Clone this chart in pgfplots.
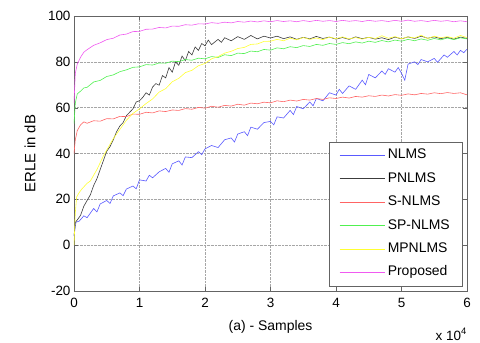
\documentclass[border=0pt]{standalone}
\usepackage{pgfplots}
\pgfplotsset{compat=1.18}
\usepackage{fontspec}
\setmainfont{Liberation Sans}
\definecolor{cB}{RGB}{90,90,255}
\definecolor{cK}{RGB}{60,60,60}
\definecolor{cR}{RGB}{255,100,100}
\definecolor{cG}{RGB}{80,240,80}
\definecolor{cY}{RGB}{255,255,50}
\definecolor{cM}{RGB}{240,90,240}
\definecolor{axgray}{RGB}{100,100,100}
\begin{document}
\begin{tikzpicture}
\begin{axis}[
  scale only axis, width=393bp, height=275bp,
  xmin=0, xmax=6, ymin=-20, ymax=100,
  xtick={0,1,2,3,4,5,6}, ytick={-20,0,20,40,60,80,100},
  tick align=inside, xtick pos=both, ytick pos=both,
  major tick length=4bp,
  grid=major, major grid style={densely dotted, gray!70},
  axis line style={axgray}, tick style={axgray},
  /pgf/number format/assume math mode=true,
  ticklabel style={font=\fontsize{13.5}{15}\selectfont},
  xticklabel style={yshift=-4bp},
  xlabel={(a) - Samples}, ylabel={ERLE in dB},
  xlabel style={font=\fontsize{14}{16}\selectfont, at={(axis description cs:0.5,-0.131)}, anchor=center},
  ylabel style={font=\fontsize{15}{17}\selectfont, at={(axis description cs:-0.112,0.5)}, anchor=center},
  legend style={at={(axis description cs:1,0)}, xshift=-5bp, yshift=5bp, anchor=south east,
    draw=axgray, font=\fontsize{14}{16}\selectfont, inner xsep=10bp, inner ysep=5bp,
    nodes={inner sep=2bp, text height=10bp, text depth=3bp}, row sep=6.4bp, column sep=1bp},
  legend cell align=left,
  legend image code/.code={\draw[#1] (0bp,0bp) -- (45bp,0bp);},
  every axis plot/.append style={line width=0.6bp},
]
\addplot[cB] coordinates {
(0,4) (0.03,10) (0.08,10.5) (0.15,12.8) (0.2,12) (0.3,16) (0.35,14.5) (0.4,18) (0.5,19.5) (0.55,18.2)
(0.6,21.5) (0.7,22.8) (0.75,21.6) (0.8,24.5) (0.9,25.8) (0.95,24.6) (1.0,28.5) (1.1,28) (1.15,30.5) (1.2,29.4)
(1.3,32) (1.4,33.5) (1.45,31.8) (1.5,35.5) (1.6,36.8) (1.65,35) (1.7,38.5) (1.8,38.2) (1.9,40.8) (1.95,39.5)
(2.0,42) (2.1,43.5) (2.2,42.6) (2.3,46) (2.4,46.8) (2.45,45) (2.5,48.5) (2.6,49.5) (2.65,47.8) (2.7,51.5)
(2.8,50.6) (2.9,53.5) (3.0,54) (3.05,52.5) (3.1,56) (3.2,55.5) (3.3,58.8) (3.35,57) (3.4,60.5) (3.5,59.5)
(3.6,62.5) (3.65,60.8) (3.7,64) (3.8,63) (3.9,66.5) (4.0,65.5) (4.05,68) (4.1,66.2) (4.2,69.5) (4.3,68)
(4.4,72) (4.45,70) (4.5,74.5) (4.6,73) (4.7,76) (4.75,74.5) (4.8,77) (4.9,75.5) (4.95,77.5) (5.0,75)
(5.05,72) (5.1,79) (5.2,80) (5.25,78.8) (5.3,81) (5.4,80) (5.5,81.5) (5.55,79.8) (5.65,83) (5.7,82)
(5.8,84.5) (5.85,83) (5.9,85) (5.95,84) (6.0,85.5)
};
\addlegendentry{NLMS}
\addplot[cK] coordinates {
(0,4) (0.02,10) (0.05,11) (0.1,13) (0.15,17) (0.2,19.5) (0.25,22) (0.3,26) (0.35,29) (0.4,33)
(0.45,37) (0.5,41) (0.55,43) (0.6,46) (0.65,49.5) (0.7,52) (0.75,53.5) (0.8,56.5) (0.85,58) (0.9,59.5)
(0.95,62.5) (1.0,63) (1.05,64.5) (1.1,66.5) (1.15,65.5) (1.2,69) (1.25,70.5) (1.3,69.8) (1.35,74) (1.4,73)
(1.45,77.5) (1.5,75.5) (1.55,80) (1.6,78.5) (1.65,82.5) (1.7,80.5) (1.75,84.5) (1.8,83) (1.85,86.5) (1.9,85)
(1.95,88) (2.0,87) (2.05,89.5) (2.1,87.5) (2.2,89.8) (2.25,88.5) (2.3,90.5) (2.4,89.2) (2.5,91) (2.6,89.8)
(2.7,91.5) (2.8,90) (2.9,91.2) (3.0,90.4) (3.1,91.2) (3.2,90.1) (3.3,90.9) (3.4,89.8) (3.5,90.7) (3.6,90.0)
(3.7,91.1) (3.8,90.2) (3.9,90.8) (4.0,89.9) (4.1,90.6) (4.2,89.8) (4.3,90.9) (4.4,90.1) (4.5,90.7) (4.6,89.9)
(4.7,90.5) (4.8,89.7) (4.9,90.8) (5.0,90.0) (5.1,90.9) (5.2,90.2) (5.3,91.2) (5.4,90.3) (5.5,90.9) (5.6,90.1)
(5.7,90.7) (5.8,89.9) (5.9,90.8) (6.0,90.2)
};
\addlegendentry{PNLMS}
\addplot[cR] coordinates {
(0,40) (0.02,46) (0.05,50) (0.1,52.5) (0.15,53.8) (0.2,53.2) (0.3,54.3) (0.4,54.1) (0.5,55.2) (0.6,55.1)
(0.7,56.2) (0.8,56.1) (0.9,57.2) (1.0,57.1) (1.1,58) (1.2,57.7) (1.3,58.6) (1.4,58.3) (1.5,59) (1.6,58.8)
(1.7,59.6) (1.8,59.3) (1.9,60.1) (2.0,59.8) (2.1,60.6) (2.2,60.2) (2.3,61) (2.4,60.7) (2.5,61.5) (2.6,61.1)
(2.7,62) (2.8,61.7) (2.9,62.4) (3.0,62.1) (3.1,63) (3.2,62.6) (3.3,63.3) (3.4,62.9) (3.5,63.6) (3.6,63.3)
(3.7,64) (3.8,63.6) (3.9,64.3) (4.0,64) (4.1,64.6) (4.2,64.2) (4.3,64.9) (4.4,64.6) (4.5,65.2) (4.6,64.9)
(4.7,65.5) (4.8,65.1) (4.9,65.7) (5.0,65.4) (5.1,66) (5.2,65.6) (5.3,66.2) (5.4,65.9) (5.5,66.5) (5.6,66.1)
(5.7,66.6) (5.8,66.2) (5.9,66.5) (6.0,65.6)
};
\addlegendentry{S-NLMS}
\addplot[cG] coordinates {
(0,53) (0.02,62) (0.05,66) (0.1,67.2) (0.15,68.6) (0.2,68.9) (0.3,71.2) (0.4,71.9) (0.5,73.6) (0.6,74.3)
(0.7,75.7) (0.8,76.5) (0.9,77.6) (1.0,77.8) (1.1,78.8) (1.2,78.6) (1.3,79.5) (1.4,79.4) (1.5,80.3) (1.6,80.1)
(1.7,81) (1.8,80.7) (1.9,81.6) (2.0,81.3) (2.1,82.3) (2.2,81.9) (2.3,83.1) (2.4,82.7) (2.5,83.8) (2.6,83.6)
(2.7,84.7) (2.8,84.4) (2.9,85.4) (3.0,85.1) (3.1,86.1) (3.2,85.7) (3.3,86.6) (3.4,86.2) (3.5,87.1) (3.6,86.7)
(3.7,87.6) (3.8,87.2) (3.9,88) (4.0,87.6) (4.1,88.4) (4.2,87.9) (4.3,88.7) (4.4,88.2) (4.5,89) (4.6,88.5)
(4.7,89.3) (4.8,88.7) (4.9,89.5) (5.0,89) (5.1,89.8) (5.2,89.2) (5.3,90) (5.4,89.4) (5.5,90.2) (5.6,89.6)
(5.7,90.4) (5.8,89.7) (5.9,90.5) (6.0,90)
};
\addlegendentry{SP-NLMS}
\addplot[cY] coordinates {
(0,0) (0.02,14) (0.04,21) (0.08,23) (0.12,24.5) (0.2,27) (0.25,28) (0.3,30.5) (0.35,33) (0.4,36)
(0.45,39) (0.5,41.5) (0.55,44) (0.6,46.5) (0.65,48.5) (0.7,50.5) (0.75,52.5) (0.8,54.5) (0.85,56) (0.9,57.5)
(0.95,58.5) (1.0,59.5) (1.1,61.8) (1.2,63.8) (1.3,66.8) (1.4,68.3) (1.5,71.3) (1.6,72.8) (1.7,75.3) (1.8,76.3)
(1.9,78.3) (2.0,79.3) (2.1,81.3) (2.2,82.3) (2.3,83.8) (2.4,84.6) (2.5,85.8) (2.6,86.3) (2.7,87.6) (2.8,87.8)
(2.9,88.9) (3.0,89.0) (3.1,89.8) (3.2,89.2) (3.3,90.3) (3.4,89.6) (3.5,90.6) (3.6,89.8) (3.7,90.4) (3.8,89.7)
(3.9,90.8) (4.0,90.1) (4.1,90.9) (4.2,90.0) (4.3,90.6) (4.4,89.9) (4.5,90.7) (4.6,90.2) (4.7,91.4) (4.8,90.3)
(4.9,91.0) (5.0,90.1) (5.1,90.9) (5.2,90.4) (5.3,91.6) (5.4,90.2) (5.5,91.2) (5.6,90.5) (5.7,91.0) (5.8,90.3)
(5.9,91.5) (6.0,90.6)
};
\addlegendentry{MPNLMS}
\addplot[cM] coordinates {
(0,62) (0.02,75) (0.05,79) (0.1,82) (0.15,84.2) (0.2,85.3) (0.3,87.2) (0.4,88.3) (0.5,89.7) (0.6,90.3)
(0.7,91.7) (0.8,92.1) (0.9,93.2) (1.0,93.3) (1.1,94.2) (1.2,94.3) (1.3,95) (1.4,94.8) (1.5,95.6) (1.6,95.5)
(1.7,96.2) (1.8,96) (1.9,96.6) (2.0,96.5) (2.1,97.1) (2.2,96.8) (2.3,97.3) (2.4,97) (2.5,97.6) (2.6,97.3)
(2.7,97.8) (2.8,97.4) (2.9,97.9) (3.0,97.5) (3.1,98) (3.2,97.6) (3.3,97.9) (3.4,97.5) (3.5,98) (3.6,97.6)
(3.7,98.1) (3.8,97.7) (3.9,98) (4.0,97.6) (4.1,98.1) (4.2,97.7) (4.3,98) (4.4,97.6) (4.5,98.1) (4.6,97.7)
(4.7,98) (4.8,97.6) (4.9,98.1) (5.0,97.7) (5.1,98.2) (5.2,97.7) (5.3,98) (5.4,97.6) (5.5,98.1) (5.6,97.7)
(5.7,98) (5.8,97.5) (5.9,97.9) (6.0,97.5)
};
\addlegendentry{Proposed}
\coordinate (ll) at (rel axis cs:0,0);
\coordinate (ur) at (rel axis cs:1,1);
\coordinate (lr) at (rel axis cs:1,0);
\end{axis}
\node[anchor=base east, font=\fontsize{13.5}{15}\selectfont, inner sep=0pt] at ([yshift=-49bp]lr) {x 10\textsuperscript{4}};
\pgfresetboundingbox
\path[use as bounding box] ([xshift=-74bp,yshift=-52bp]ll) rectangle ([xshift=13bp,yshift=16bp]ur);
\end{tikzpicture}
\end{document}
